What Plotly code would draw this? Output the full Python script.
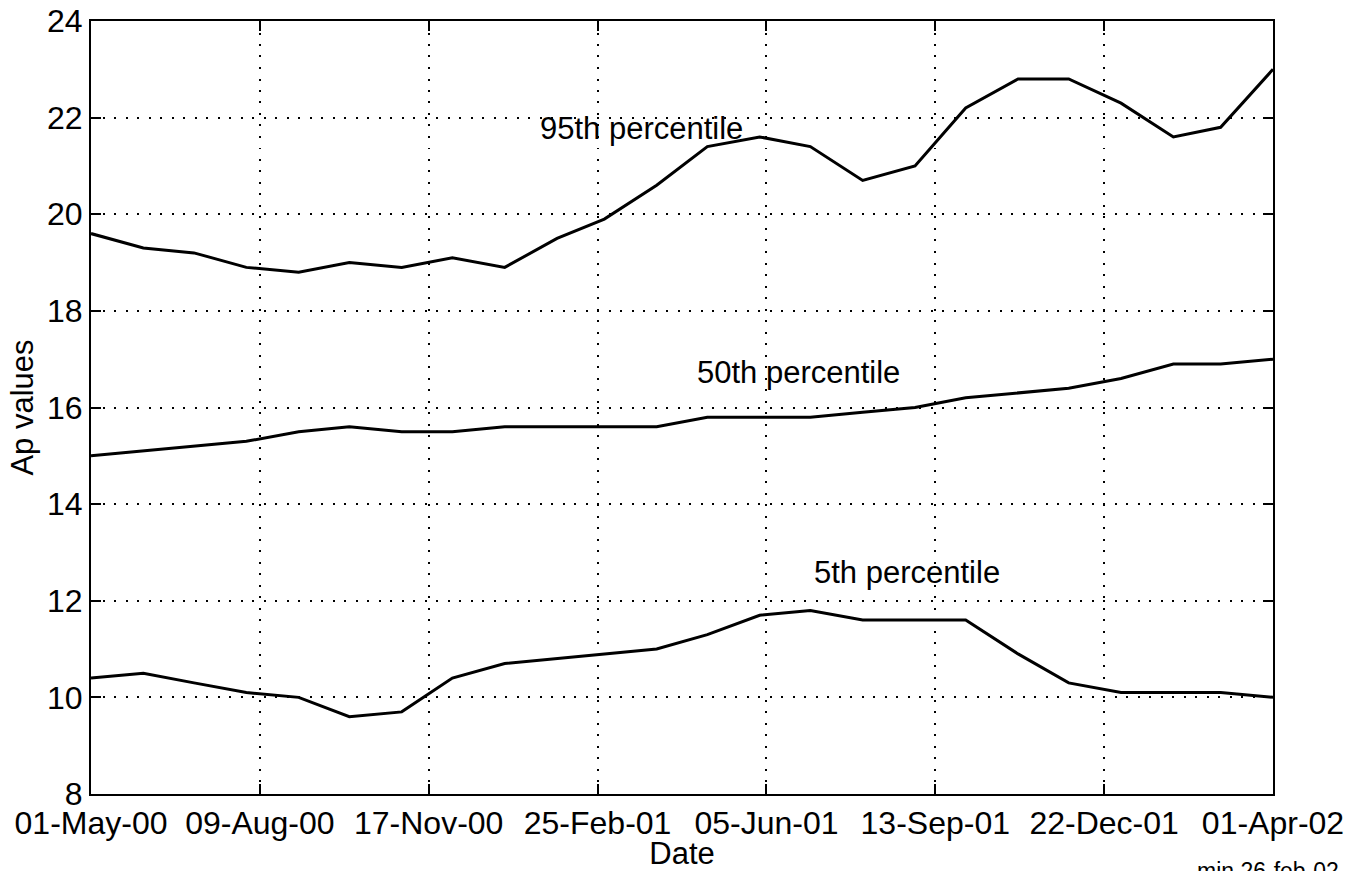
import plotly.graph_objects as go

dates = ["2000-05-01", "2000-06-01", "2000-07-01", "2000-08-01", "2000-09-01", "2000-10-01",
         "2000-11-01", "2000-12-01", "2001-01-01", "2001-02-01", "2001-03-01", "2001-04-01",
         "2001-05-01", "2001-06-01", "2001-07-01", "2001-08-01", "2001-09-01", "2001-10-01",
         "2001-11-01", "2001-12-01", "2002-01-01", "2002-02-01", "2002-03-01", "2002-04-01"]

p95 = [19.6, 19.3, 19.2, 18.9, 18.8, 19.0, 18.9, 19.1, 18.9, 19.5, 19.9, 20.6,
       21.4, 21.6, 21.4, 20.7, 21.0, 22.2, 22.8, 22.8, 22.3, 21.6, 21.8, 23.0]
p50 = [15.0, 15.1, 15.2, 15.3, 15.5, 15.6, 15.5, 15.5, 15.6, 15.6, 15.6, 15.6,
       15.8, 15.8, 15.8, 15.9, 16.0, 16.2, 16.3, 16.4, 16.6, 16.9, 16.9, 17.0]
p5 = [10.4, 10.5, 10.3, 10.1, 10.0, 9.6, 9.7, 10.4, 10.7, 10.8, 10.9, 11.0,
      11.3, 11.7, 11.8, 11.6, 11.6, 11.6, 10.9, 10.3, 10.1, 10.1, 10.1, 10.0]

x_tickvals = ["2000-05-01", "2000-08-09", "2000-11-17", "2001-02-25",
              "2001-06-05", "2001-09-13", "2001-12-22", "2002-04-01"]
x_ticktext = ["01-May-00", "09-Aug-00", "17-Nov-00", "25-Feb-01",
              "05-Jun-01", "13-Sep-01", "22-Dec-01", "01-Apr-02"]
y_tickvals = [8, 10, 12, 14, 16, 18, 20, 22, 24]

labels = ["95th percentile", "50th percentile", "5th percentile"]
label_x = ["2001-03-23", "2001-06-24", "2001-08-27"]
label_y = [21.78, 16.73, 12.59]

FONT = "Liberation Sans, Arial, Helvetica, sans-serif"

fig = go.Figure()
for series in (p95, p50, p5):
    fig.add_trace(go.Scatter(x=dates, y=series, mode="lines",
                             line=dict(color="black", width=3),
                             showlegend=False, hoverinfo="skip"))

for t, xx, yy in zip(labels, label_x, label_y):
    fig.add_annotation(x=xx, y=yy, xref="x", yref="y", text=t, showarrow=False,
                       xanchor="center", yanchor="middle",
                       font=dict(family=FONT, size=31, color="black"))

fig.add_annotation(x=1.0, y=-0.08, xref="paper", yref="paper", text="min 26-feb-02",
                   showarrow=False, xanchor="left", yanchor="top", xshift=-78,
                   font=dict(family=FONT, size=23, color="black"))

axis_common = dict(
    showline=True, linecolor="black", linewidth=2, mirror="ticks",
    ticks="inside", ticklen=10, tickwidth=2, tickcolor="black",
    showgrid=True, gridcolor="black", gridwidth=2, griddash="2px,9.5px",
    zeroline=False, automargin=False,
    tickfont=dict(family=FONT, size=32, color="black"),
)

fig.update_xaxes(type="date", range=["2000-05-01", "2002-04-01"],
                 tickmode="array", tickvals=x_tickvals, ticktext=x_ticktext,
                 title=dict(text="Date", standoff=2,
                            font=dict(family=FONT, size=31, color="black")),
                 **axis_common)
fig.update_yaxes(range=[8, 24], tickmode="array", tickvals=y_tickvals,
                 title=dict(text="Ap values", standoff=4,
                            font=dict(family=FONT, size=31, color="black")),
                 **axis_common)

fig.update_layout(
    width=1350, height=871,
    margin=dict(l=91, r=77, t=21, b=77),
    paper_bgcolor="white", plot_bgcolor="white",
    font=dict(family=FONT, color="black"),
)

fig.write_html("out.html")
